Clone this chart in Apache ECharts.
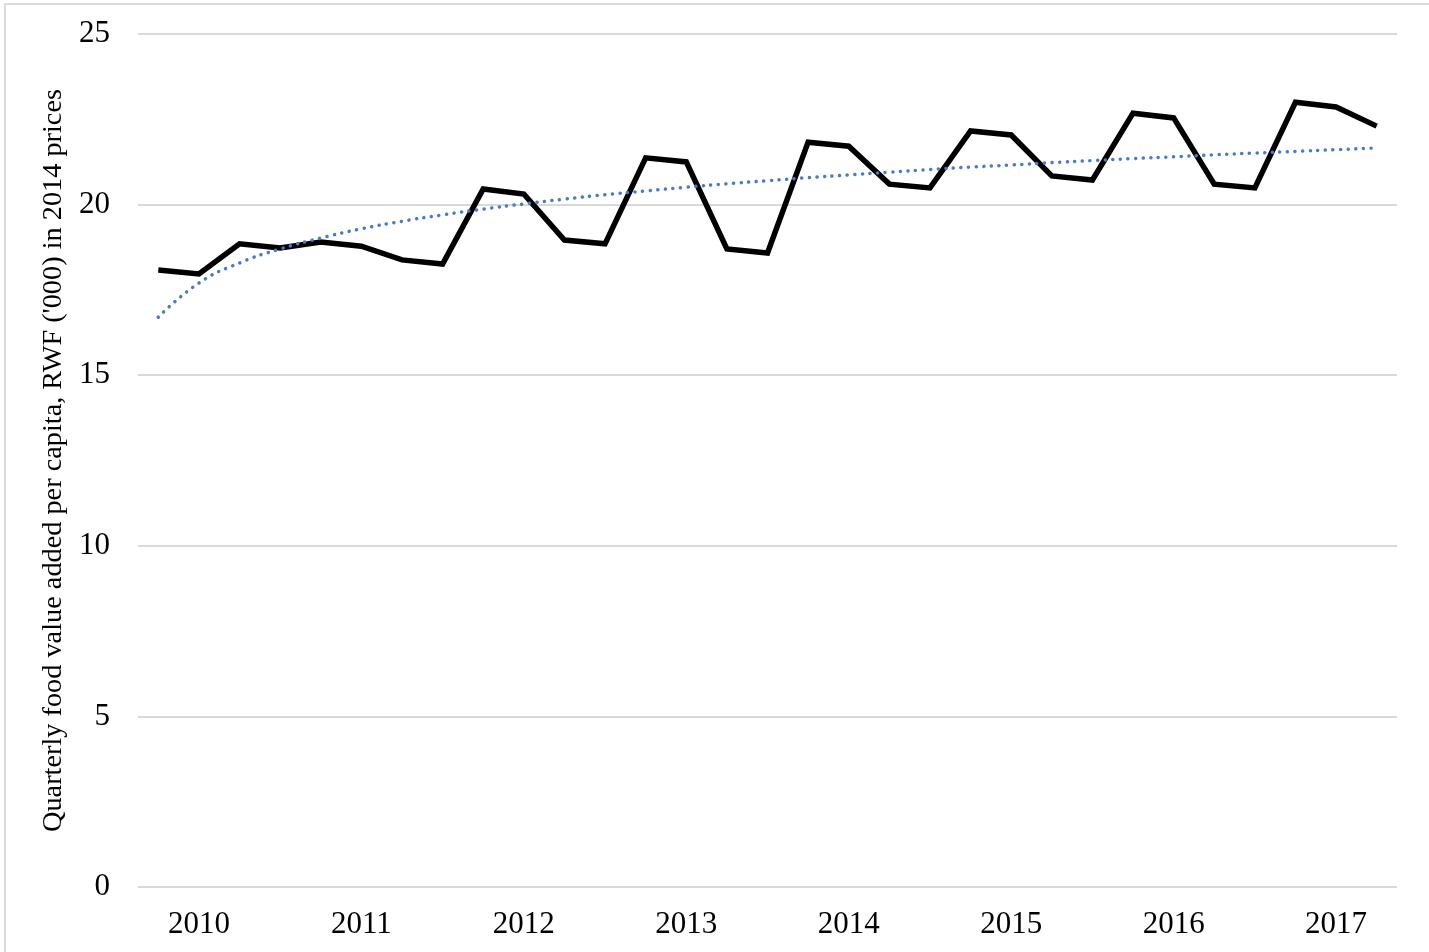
<!DOCTYPE html>
<html>
<head>
<meta charset="utf-8">
<script src="https://cdn.jsdelivr.net/npm/echarts@6/dist/echarts.min.js"></script>
<style>html,body{margin:0;padding:0;background:#fff}#c{width:1429px;height:952px}</style>
</head>
<body>
<div id="c"></div>
<script>
const quarters = ['2009Q4','2010Q1','2010Q2','2010Q3','2010Q4','2011Q1','2011Q2','2011Q3','2011Q4','2012Q1','2012Q2','2012Q3','2012Q4','2013Q1','2013Q2','2013Q3','2013Q4','2014Q1','2014Q2','2014Q3','2014Q4','2015Q1','2015Q2','2015Q3','2015Q4','2016Q1','2016Q2','2016Q3','2016Q4','2017Q1','2017Q2'];
const foodValueAdded = [18.08,17.97,18.85,18.73,18.9,18.78,18.38,18.26,20.46,20.31,18.96,18.85,21.37,21.25,18.7,18.58,21.83,21.71,20.6,20.49,22.16,22.04,20.84,20.72,22.68,22.54,20.6,20.49,23.0,22.86,22.3];
const trendValues = [16.7,17.7,18.29,18.7,19.02,19.29,19.51,19.7,19.87,20.02,20.16,20.29,20.4,20.51,20.61,20.7,20.79,20.87,20.95,21.03,21.1,21.16,21.23,21.29,21.35,21.4,21.46,21.51,21.56,21.61,21.66];
const yTicks = [0,5,10,15,20,25];
const yTitle = "Quarterly food value added per capita, RWF ('000) in 2014 prices";

const chart = echarts.init(document.getElementById('c'));
chart.setOption({
  animation: false,
  backgroundColor: '#fff',
  graphic: [{type:'rect', shape:{x:5,y:4,width:1440,height:960}, style:{fill:'none', stroke:'#d9d9d9', lineWidth:2}, silent:true}],
  grid: {left:138, right:32, top:34, bottom:65, containLabel:false},
  xAxis: {
    type:'category', data: quarters, boundaryGap:true,
    axisLine:{show:false}, axisTick:{show:false},
    axisLabel:{
      interval:0, margin:22, color:'#000', fontFamily:'Liberation Serif', fontSize:31,
      formatter:(v,i)=> (i%4===1 ? v.slice(0,4) : '')
    },
    splitLine:{show:false}
  },
  yAxis: {
    type:'value', min:yTicks[0], max:yTicks[yTicks.length-1], interval:5,
    name: yTitle, nameLocation:'middle', nameGap:70, nameRotate:90,
    nameTextStyle:{color:'#000', fontFamily:'Liberation Serif', fontSize:28.3},
    axisLine:{show:false}, axisTick:{show:false},
    axisLabel:{margin:28, color:'#000', fontFamily:'Liberation Serif', fontSize:31},
    splitLine:{lineStyle:{color:'#d9d9d9', width:2}}
  },
  series: [
    {type:'line', data: foodValueAdded, showSymbol:false, symbol:'none',
     lineStyle:{color:'#000', width:5.5, join:'miter'}, z:2},
    {type:'line', data: trendValues, showSymbol:false, symbol:'none', smooth:true,
     lineStyle:{color:'#4a7cc4', width:3.5, type:[0.1,7.5], cap:'round'}, z:3}
  ]
});
</script>
</body>
</html>
